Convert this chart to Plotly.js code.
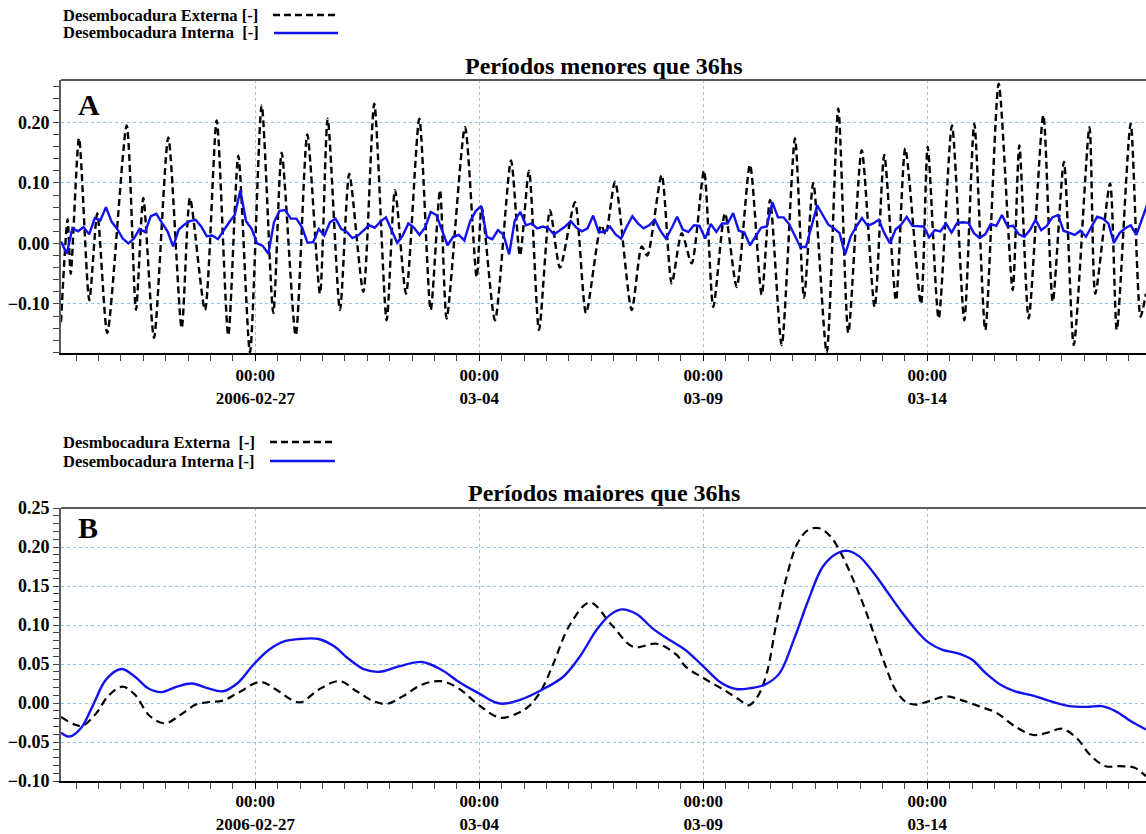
<!DOCTYPE html>
<html>
<head>
<meta charset="utf-8">
<script src="https://cdn.plot.ly/plotly-3.0.1.min.js"></script>
<style>html,body{margin:0;padding:0;background:#fff;}#chart{width:1146px;height:834px;}</style>
</head>
<body>
<div id="chart"></div>
<script>
// ---------- DATA ----------
// Reference time for the day offsets below
const dayOrigin = '2006-02-27';

// Panel A: Desembocadura Externa (high-pass), offsets in days from 2006-02-27 00:00
const externaA_dias = [-4.337,-4.19,-4.12,-3.935,-3.705,-3.527,-3.304,-2.871,-2.663,-2.5,-2.261,-1.942,-1.643,-1.458,-1.123,-0.862,-0.603,-0.379,-0.118,0.143,0.402,0.589,0.902,1.161,1.444,1.616,1.891,2.098,2.411,2.656,2.932,3.118,3.364,3.661,3.915,4.123,4.272,4.681,4.942,5.054,5.35,5.708,5.908,6.11,6.333,6.578,6.801,7.136,7.382,7.72,7.82,8.03,8.402,8.625,8.75,9.071,9.295,9.518,9.741,10.016,10.223,10.484,10.746,11.042,11.304,11.489,11.75,12.047,12.248,12.455,12.754,13.013,13.237,13.536,13.825,14.04,14.301,14.509,14.859,15.009,15.254,15.551,15.826,16.049,16.295,16.594,16.906,17.054,17.263,17.59,17.8,18.05,18.27,18.62,18.75,19.08,19.23,19.54,19.76,19.88];
const externaA_valores = [-0.13,0.04,-0.05,0.174,-0.094,0.05,-0.148,0.195,-0.11,0.075,-0.156,0.175,-0.14,0.075,-0.11,0.203,-0.152,0.145,-0.18,0.228,-0.115,0.15,-0.152,0.18,-0.083,0.206,-0.11,0.115,-0.08,0.231,-0.127,0.088,-0.083,0.206,-0.11,0.088,-0.124,0.192,-0.056,0.06,-0.127,0.137,-0.02,0.12,-0.143,0.055,-0.04,0.068,-0.115,0.03,0.015,0.102,-0.11,-0.005,-0.02,0.113,-0.066,0.017,-0.033,0.12,-0.105,0.05,-0.072,0.13,-0.085,0.072,-0.168,0.174,-0.09,0.1,-0.18,0.223,-0.148,0.154,-0.105,0.146,-0.094,0.157,-0.1,0.16,-0.124,0.195,-0.127,0.198,-0.143,0.264,-0.077,0.162,-0.124,0.212,-0.096,0.135,-0.168,0.192,-0.083,0.099,-0.143,0.198,-0.121,-0.083];

// Panel A: Desembocadura Interna (high-pass), sampled every 3 h from internaA_inicio
const internaA_inicio = '2006-02-22 16:00:00';
const internaA_pasoHoras = 3;
const internaA_valores = [0.003,-0.017,0.025,0.02,0.027,0.015,0.042,0.038,0.06,0.036,0.024,0.008,0,0.008,0.024,0.019,0.045,0.049,0.034,0.02,-0.005,0.023,0.031,0.037,0.039,0.028,0.012,0.013,0.007,0.022,0.035,0.047,0.088,0.037,0.024,0,-0.004,-0.017,0.035,0.054,0.055,0.041,0.041,0.027,0.001,0.002,0.024,0.013,0.035,
0.041,0.024,0.019,0.009,0.013,0.022,0.03,0.026,0.036,0.043,0.022,0.001,0.013,0.033,0.026,0.014,0.027,0.052,0.047,0.021,-0.003,0.011,0.014,0.005,0.036,0.053,0.062,0.011,0.007,0.022,0.014,-0.018,0.038,0.052,0.03,0.033,0.025,0.028,0.025,0.015,0.021,0.028,0.037,0.026,0.02,0.025,0.046,0.019,0.019,
0.028,0.015,0.008,0.028,0.045,0.033,0.025,0.03,0.039,0.021,0.008,0.025,0.044,0.023,0.019,0.03,0.029,0.008,0.032,0.019,0.033,0.033,0.05,0.021,0.018,-0.003,0.011,0.026,0.028,0.068,0.043,0.043,0.032,0.012,-0.006,-0.006,0.028,0.063,0.047,0.031,0.025,0.017,-0.018,0.012,0.028,0.042,0.029,0.033,0.039,
0.017,0,0.023,0.031,0.044,0.029,0.029,0.028,0.010,0.022,0.02,0.033,0.018,0.034,0.035,0.034,0.017,0.009,0.015,0.032,0.029,0.047,0.028,0.029,0.015,0.011,0.022,0.039,0.022,0.029,0.043,0.047,0.021,0.017,0.014,0.021,0.011,0.028,0.044,0.041,0.033,0.001,0.017,0.025,0.03,0.014,0.041,0.066];

// Panel B: Desembocadura Externa (low-pass)
const externaB_dias = [-4.337,-4.017,-3.846,-3.547,-3.29,-2.966,-2.692,-2.35,-2.009,-1.667,-1.325,-1.068,-0.726,-0.385,0.111,0.47,0.812,1.026,1.41,1.88,2.265,2.65,2.949,3.291,3.718,4.145,4.53,5.0,5.47,5.855,6.11,6.39,6.65,7.02,7.47,7.955,8.44,8.96,9.4,9.6,10.0,10.485,10.81,11.01,11.214,11.416,11.618,11.861,12.104,12.346,12.589,12.832,13.074,13.317,13.56,13.803,14.045,14.288,14.53,14.733,15.016,15.42,15.744,16.149,16.553,16.958,17.362,17.686,18.01,18.333,18.657,18.981,19.304,19.628,19.88];
const externaB_valores = [-0.018,-0.028,-0.029,-0.013,0.0085,0.021,0.011,-0.017,-0.026,-0.015,-0.002,0.001,0.003,0.013,0.027,0.017,0.004,0.001,0.017,0.028,0.015,0.002,-0.001,0.0085,0.0235,0.028,0.019,-0.003,-0.019,-0.013,-0.004,0.017,0.05,0.10,0.129,0.10,0.072,0.076,0.062,0.047,0.032,0.016,0.004,-0.003,0.0085,0.038,0.098,0.162,0.205,0.222,0.224,0.214,0.192,0.162,0.128,0.0897,0.051,0.017,0.001,-0.002,0.002,0.0085,0.004,-0.004,-0.013,-0.03,-0.041,-0.038,-0.033,-0.045,-0.068,-0.081,-0.081,-0.083,-0.094];

// Panel B: Desembocadura Interna (low-pass)
const internaB_dias = [-4.337,-4.145,-3.889,-3.632,-3.333,-2.991,-2.692,-2.393,-2.094,-1.752,-1.41,-1.068,-0.726,-0.385,-0.043,0.299,0.641,0.983,1.41,1.752,2.094,2.436,2.778,3.205,3.718,4.145,4.573,5.0,5.342,5.513,5.91,6.39,6.88,7.25,7.62,7.92,8.18,8.51,8.88,9.27,9.6,10.0,10.405,10.728,11.05,11.375,11.7,12.02,12.346,12.67,12.99,13.22,13.48,13.80,14.126,14.45,14.77,15.016,15.34,15.66,15.987,16.31,16.634,16.958,17.36,17.767,18.17,18.576,18.9,19.22,19.547,19.88];
const internaB_valores = [-0.038,-0.043,-0.032,-0.004,0.030,0.0436,0.034,0.019,0.014,0.021,0.025,0.019,0.015,0.026,0.049,0.068,0.079,0.082,0.082,0.073,0.056,0.043,0.040,0.047,0.0526,0.043,0.026,0.012,0.001,-0.001,0.004,0.0167,0.034,0.06,0.094,0.113,0.120,0.114,0.095,0.08,0.068,0.047,0.0256,0.018,0.019,0.0235,0.038,0.081,0.132,0.175,0.192,0.195,0.188,0.167,0.141,0.115,0.092,0.078,0.068,0.064,0.056,0.038,0.0235,0.015,0.0094,0.002,-0.004,-0.005,-0.004,-0.011,-0.0235,-0.034];

// Axis ticks / labels
const xTickVals = ['2006-02-27','2006-03-04','2006-03-09','2006-03-14'];
const xTickText = ['00:00<br>2006-02-27','00:00<br>03-04','00:00<br>03-09','00:00<br>03-14'];
const xRange = ['2006-02-22 15:55:00','2006-03-18 21:10:00'];
const yRangeA = [-0.181, 0.270];
const yRangeB = [-0.10, 0.25];

const tituloA = 'Períodos menores que 36hs';
const tituloB = 'Períodos maiores que 36hs';
const legendaA = ['Desembocadura Externa [-]', 'Desembocadura Interna\u00a0 [-]'];
const legendaB = ['Desmbocadura Externa\u00a0 [-]', 'Desembocadura Interna [-]'];

// ---------- HELPERS ----------
function fmt(ms){ return new Date(ms).toISOString().slice(0,19).replace('T',' '); }
const originMs = Date.parse(dayOrigin + 'T00:00:00Z');
function diasADatas(arr){ return arr.map(d => fmt(originMs + d*86400000)); }
function serieRegular(inicio, pasoH, n){
  const t0 = Date.parse(inicio.replace(' ','T') + 'Z');
  const out = [];
  for (let i=0;i<n;i++) out.push(fmt(t0 + i*pasoH*3600000));
  return out;
}

const BLUE = '#1212ee';
const GRID = '#94c4e4';
const FONT = 'Liberation Serif, Times New Roman, serif';

const traces = [
  {x: diasADatas(externaA_dias), y: externaA_valores, xaxis:'x', yaxis:'y', type:'scatter', mode:'lines',
   line:{color:'#000', width:2.4, dash:'7px,4px', shape:'spline', smoothing:0.7}},
  {x: serieRegular(internaA_inicio, internaA_pasoHoras, internaA_valores.length), y: internaA_valores, xaxis:'x', yaxis:'y', type:'scatter', mode:'lines',
   line:{color:BLUE, width:2.4}},
  {x: diasADatas(externaB_dias), y: externaB_valores, xaxis:'x2', yaxis:'y2', type:'scatter', mode:'lines',
   line:{color:'#000', width:2.2, dash:'8px,5px', shape:'spline', smoothing:1}},
  {x: diasADatas(internaB_dias), y: internaB_valores, xaxis:'x2', yaxis:'y2', type:'scatter', mode:'lines',
   line:{color:BLUE, width:2.4, shape:'spline', smoothing:1}}
];

function xAxis(anchor, standoff){
  return {
    type:'date', anchor:anchor, domain:[0,1], range:xRange,
    tickmode:'array', tickvals:xTickVals, ticktext:xTickText,
    ticks:'outside', ticklen:6, tickwidth:1, tickcolor:'#000',
    ticklabelstandoff:standoff,
    minor:{dtick:43200000, tick0:'2006-02-27', ticks:'outside', ticklen:6, tickwidth:1, tickcolor:'#444', showgrid:false},
    showgrid:true, gridcolor:GRID, griddash:'dot', gridwidth:1,
    showline:true, linecolor:'#000', linewidth:2, zeroline:false,
    tickfont:{family:FONT, size:17, color:'#000', weight:'bold'},
    fixedrange:true
  };
}
function yAxis(anchor, domain, range, dtick, minorDtick){
  return {
    anchor:anchor, domain:domain, range:range,
    tick0:0, dtick:dtick, tickformat:'.2f',
    ticks:'outside', ticklen:6, tickwidth:1, tickcolor:'#444',
    minor:{dtick:minorDtick, tick0:0, ticks:'outside', ticklen:6, tickwidth:1, tickcolor:'#444', showgrid:false},
    showgrid:true, gridcolor:GRID, griddash:'dot', gridwidth:1,
    showline:true, linecolor:'#5a5a5a', linewidth:2, zeroline:false,
    tickfont:{family:FONT, size:18, color:'#000', weight:'bold'},
    fixedrange:true
  };
}

const H = 834, W = 1146, L = 61;
function py(px){ return 1 - px/H; }
function pxX(px){ return (px - L)/(W - L); }

const ann = (text, x, y, size, xanchor) => ({text, x, y, xref:'paper', yref:'paper', xanchor:xanchor||'center', yanchor:'middle',
  showarrow:false, font:{family:FONT, size, color:'#000', weight:'bold'}});

const layout = {
  width:W, height:H, margin:{l:L, r:0, t:0, b:0},
  paper_bgcolor:'#fff', plot_bgcolor:'#fff', showlegend:false,
  xaxis: xAxis('y', 0),
  yaxis: yAxis('x', [py(353), py(80)], yRangeA, 0.1, 0.02),
  xaxis2: xAxis('y2', -2),
  yaxis2: yAxis('x2', [py(781), py(508)], yRangeB, 0.05, 0.01),
  annotations:[
    ann(tituloA, 0.5, py(66), 24),
    ann(tituloB, 0.5, py(493), 24),
    ann('A', pxX(89), py(104), 30),
    ann('B', pxX(88), py(527), 30),
    ann(legendaA[0], pxX(61), py(16), 16.5, 'left'),
    ann(legendaA[1], pxX(61), py(33), 16.5, 'left'),
    ann(legendaB[0], pxX(61), py(442), 16.5, 'left'),
    ann(legendaB[1], pxX(61), py(461), 16.5, 'left')
  ],
  shapes:[
    // top frame lines
    {type:'line', xref:'x domain', yref:'y domain', x0:0, x1:1, y0:1, y1:1, line:{color:'#5a5a5a', width:2}},
    {type:'line', xref:'x2 domain', yref:'y2 domain', x0:0, x1:1, y0:1, y1:1, line:{color:'#5a5a5a', width:2}},
    // legend samples
    {type:'line', xref:'paper', yref:'paper', x0:pxX(273), x1:pxX(338), y0:py(15), y1:py(15), line:{color:'#000', width:2.4, dash:'7px,4px'}},
    {type:'line', xref:'paper', yref:'paper', x0:pxX(274), x1:pxX(338), y0:py(33), y1:py(33), line:{color:BLUE, width:2.6}},
    {type:'line', xref:'paper', yref:'paper', x0:pxX(270), x1:pxX(335), y0:py(442), y1:py(442), line:{color:'#000', width:2.4, dash:'7px,4px'}},
    {type:'line', xref:'paper', yref:'paper', x0:pxX(270), x1:pxX(335), y0:py(461), y1:py(461), line:{color:BLUE, width:2.6}}
  ]
};

Plotly.newPlot('chart', traces, layout, {staticPlot:true, displayModeBar:false});
</script>
</body>
</html>
